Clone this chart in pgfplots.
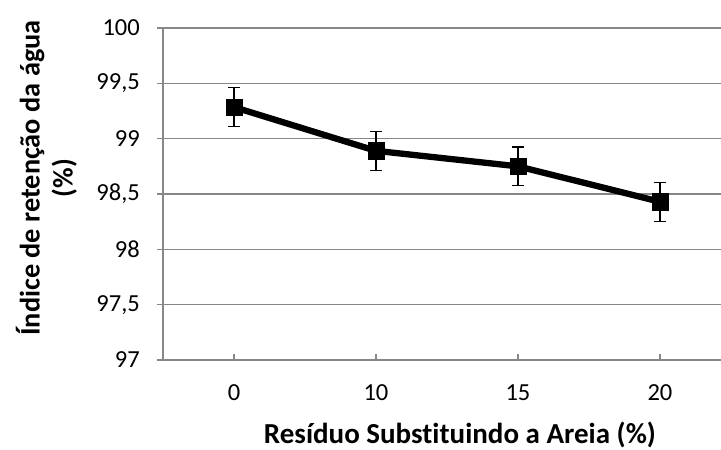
\documentclass[border=0pt]{standalone}
\usepackage{fontspec}
\setmainfont{Carlito}[Ligatures={NoCommon}]
\usepackage{pgfplots}
\pgfplotsset{compat=1.18}
\definecolor{gridgray}{HTML}{878787}
\begin{document}
\begin{tikzpicture}
\useasboundingbox (-163bp,-90bp) rectangle (558bp,360bp);
\begin{axis}[
  at={(0,0)}, anchor=south west,
  scale only axis,
  width=558bp, height=332bp,
  xmin=-0.5, xmax=3.43,
  ymin=97, ymax=100,
  ytick={97,97.5,98,98.5,99,99.5,100},
  xtick={0,1,2,3},
  xticklabels={0,10,15,20},
  /pgf/number format/assume math mode=true,
  /pgf/number format/use comma,
  axis lines*=left,
  axis line style={draw=gridgray, line width=1.2bp},
  ymajorgrids,
  grid style={draw=gridgray, line width=1.2bp},
  xtick align=inside, ytick align=outside,
  major tick length=6bp,
  tick style={draw=gridgray, line width=1.2bp},
  ticklabel style={font=\fontsize{24.5bp}{28bp}\selectfont},
  yticklabel style={anchor=east, inner sep=0pt, xshift=-17bp},
  xticklabel style={anchor=base, inner sep=0pt, yshift=-40bp},
  xlabel={Resíduo Substituindo a Areia (\%)},
  ylabel={Índice de retenção da água\\(\%)},
  xlabel style={font=\bfseries\fontsize{29bp}{34bp}\selectfont, at={(axis description cs:0.532,-0.253)}, anchor=base},
  ylabel style={font=\bfseries\fontsize{28.3bp}{33bp}\selectfont, at={(axis description cs:-0.2088,0.548)}, anchor=center, align=center},
]
\addplot[black, line width=6.3bp, mark=square*,
  mark options={solid, fill=black, line width=0.5bp, rounded corners=2bp, mark size=8.2bp},
  error bars/.cd, y dir=both, y explicit,
  error bar style={line width=1.3bp, black},
  error mark options={rotate=90, mark size=5.8bp, line width=1.3bp, black}]
coordinates {
 (0,99.285) +- (0,0.177)
 (1,98.89) +- (0,0.177)
 (2,98.75) +- (0,0.176)
 (3,98.43) +- (0,0.176)
};
\end{axis}
\end{tikzpicture}
\end{document}
